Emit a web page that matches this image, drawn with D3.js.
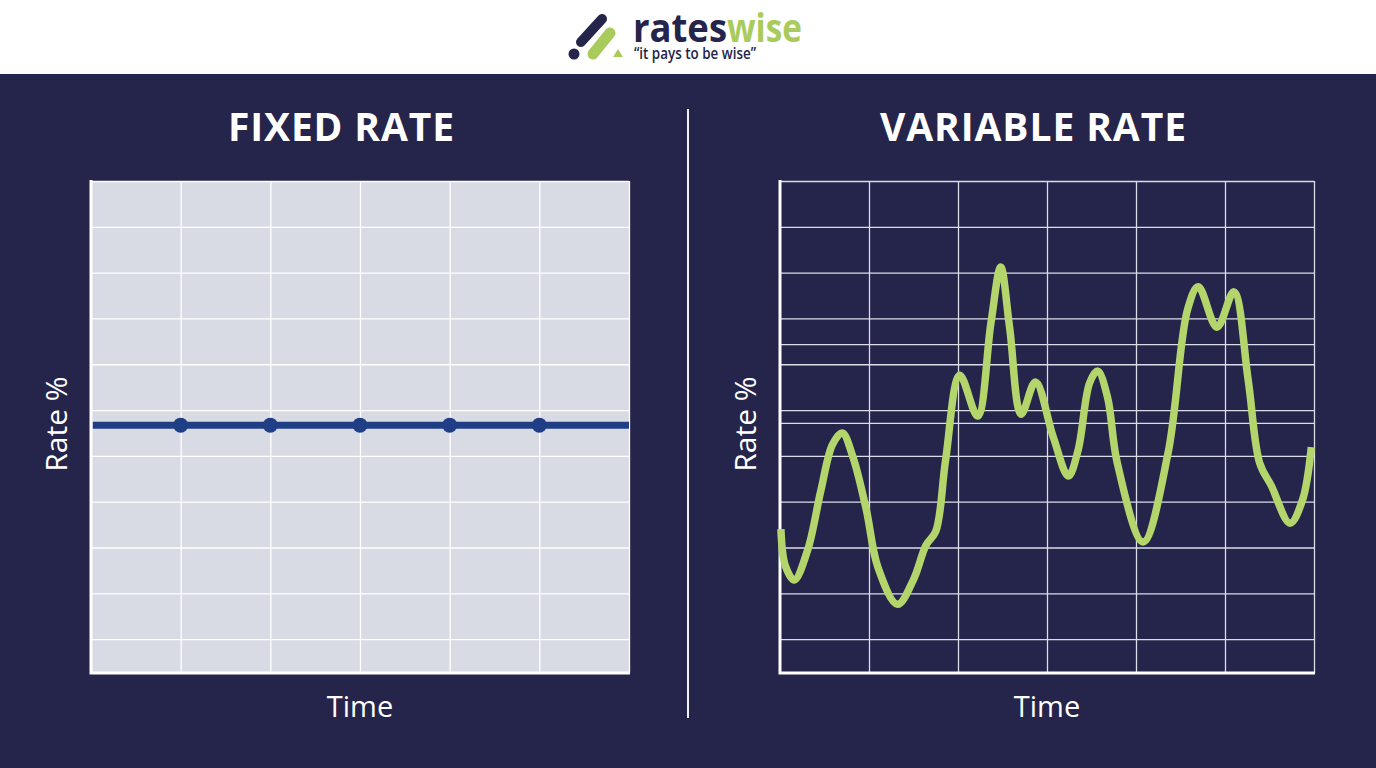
<!DOCTYPE html>
<html>
<head>
<meta charset="utf-8">
<script src="https://d3js.org/d3.v7.min.js"></script>
<style>
  html, body { margin: 0; padding: 0; background: #25244a; overflow: hidden; }
  svg { display: block; }
  text { font-family: "Open Sans", sans-serif; fill: #fff; }
</style>
</head>
<body>
<div id="chart"></div>
<script>
var svgWidth = 1376;
var svgHeight = 768;

var navy = "#25244a";
var green = "#b4d46c";
var logoGreen = "#a9cb5c";

// values
var panelTitles = ["FIXED RATE", "VARIABLE RATE"];
var brandWords = ["rates", "wise"];
var tagline = "\u201cit pays to be wise\u201d";
var xAxisLabel = "Time";
var yAxisLabel = "Rate %";

var timeTicks = [10, 20, 30, 40, 50, 60];
var rateTicks = [1, 2, 3, 4, 5, 6, 7, 8, 9, 10, 11];
var extraVariableRateTicks = [5.72, 7.44];

var fixedTime = [0.2, 60];
var fixedRate = [5.67, 5.67];
var fixedDotTime = [10, 20, 30, 40, 50];

var variableTime = [0.1, 0.6, 1.6, 3.1, 4.6, 5.9, 7.0, 8.2, 9.7, 11.0, 13.2, 15.0, 16.4, 17.5, 18.6, 20.2, 22.2, 23.7, 24.8,
  25.8, 27.1, 28.7, 30.7, 32.4, 33.5, 34.8, 35.7, 36.8, 37.9, 40.8, 43.6, 45.8, 47.0, 49.1, 51.0, 52.6,
  53.9, 55.2, 57.3, 58.7, 59.7];
var variableRate = [3.40, 2.60, 2.29, 2.94, 4.25, 5.25, 5.50, 4.97, 3.82, 2.57, 1.76, 2.30, 3.05, 3.35, 4.90, 6.76, 5.87, 7.90, 9.12,
  7.80, 5.91, 6.61, 5.41, 4.56, 5.13, 6.60, 6.85, 6.28, 4.84, 3.12, 5.06, 8.20, 8.69, 7.81, 8.58, 6.66,
  4.84, 4.35, 3.53, 4.03, 5.19];

var plotTop = 181;
var plotBottom = 673;

var svg = d3.select("#chart")
  .append("svg")
  .attr("width", svgWidth)
  .attr("height", svgHeight);

svg.append("rect")
  .attr("width", svgWidth)
  .attr("height", svgHeight)
  .attr("fill", navy);

// header
svg.append("rect")
  .attr("width", svgWidth)
  .attr("height", 74)
  .attr("fill", "#fff");

var logo = svg.append("g");

logo.append("line")
  .attr("x1", 581).attr("y1", 42).attr("x2", 602).attr("y2", 19)
  .attr("stroke", navy).attr("stroke-width", 10).attr("stroke-linecap", "round");
logo.append("line")
  .attr("x1", 593).attr("y1", 54).attr("x2", 610).attr("y2", 33)
  .attr("stroke", logoGreen).attr("stroke-width", 11).attr("stroke-linecap", "round");
logo.append("circle")
  .attr("cx", 574).attr("cy", 54).attr("r", 5.5).attr("fill", navy);
logo.append("path")
  .attr("d", "M613 57 L618 49 L623 57 Z")
  .attr("fill", logoGreen);

// the two brand words are separate so neither gets squeezed past the page top
logo.append("text")
  .attr("x", 633)
  .attr("y", 42)
  .attr("font-size", 39)
  .attr("font-weight", 700)
  .attr("textLength", 94)
  .attr("lengthAdjust", "spacingAndGlyphs")
  .style("fill", navy)
  .text(brandWords[0]);

logo.append("text")
  .attr("x", 727)
  .attr("y", 42)
  .attr("font-size", 39)
  .attr("font-weight", 700)
  .attr("textLength", 75)
  .attr("lengthAdjust", "spacingAndGlyphs")
  .style("fill", logoGreen)
  .text(brandWords[1]);

logo.append("text")
  .attr("x", 634)
  .attr("y", 59)
  .attr("font-size", 16)
  .attr("font-weight", 600)
  .attr("textLength", 122)
  .attr("lengthAdjust", "spacingAndGlyphs")
  .style("fill", navy)
  .text(tagline);

// divider
svg.append("line")
  .attr("x1", 688).attr("x2", 688)
  .attr("y1", 109).attr("y2", 718)
  .attr("stroke", "#f2f2f6")
  .attr("stroke-width", 2);

function drawPanel(left, right, title, titleX, titleWidth, background, gridColor, rowTicks) {
  var x = d3.scaleLinear().domain([0, 60]).range([left, right]);
  var y = d3.scaleLinear().domain([0.26, 11]).range([plotBottom, plotTop]);
  var panel = svg.append("g");

  panel.append("rect")
    .attr("x", left)
    .attr("y", plotTop)
    .attr("width", right - left)
    .attr("height", plotBottom - plotTop)
    .attr("fill", background);

  var rows = panel.append("g")
    .attr("transform", `translate(${left}, 0)`)
    .call(d3.axisLeft(y).tickValues(rowTicks).tickSize(-(right - left)).tickFormat(""));
  var cols = panel.append("g")
    .attr("transform", `translate(0, ${plotBottom})`)
    .call(d3.axisBottom(x).tickValues(timeTicks).tickSize(-(plotBottom - plotTop)).tickFormat(""));

  [rows, cols].forEach(function(axis) {
    axis.select(".domain").remove();
    axis.selectAll("line").attr("stroke", gridColor).attr("stroke-width", 1.3);
  });

  // white axis lines
  panel.append("path")
    .attr("d", `M${left} ${plotTop - 1} V${plotBottom} H${right + 1}`)
    .attr("fill", "none")
    .attr("stroke", "#fff")
    .attr("stroke-width", 3);

  panel.append("text")
    .attr("x", titleX)
    .attr("y", 141)
    .attr("text-anchor", "middle")
    .attr("font-size", 39)
    .attr("font-weight", 700)
    .attr("textLength", titleWidth)
    .attr("lengthAdjust", "spacing")
    .text(title);

  panel.append("text")
    .attr("x", (left + right) / 2)
    .attr("y", 717)
    .attr("text-anchor", "middle")
    .attr("font-size", 29)
    .attr("font-weight", 500)
    .text(xAxisLabel);

  panel.append("text")
    .attr("transform", `translate(${left - 24}, 424) rotate(-90)`)
    .attr("text-anchor", "middle")
    .attr("font-size", 30)
    .attr("font-weight", 500)
    .text(yAxisLabel);

  return { panel: panel, x: x, y: y };
}

// fixed rate panel
var fixedPanel = drawPanel(91, 629, panelTitles[0], 341, 226, "#d8dae4", "#ffffff", rateTicks);

var fixedLine = d3.line()
  .x(function(d, i) { return fixedPanel.x(fixedTime[i]); })
  .y(function(d) { return fixedPanel.y(d); });

fixedPanel.panel.append("path")
  .attr("d", fixedLine(fixedRate))
  .attr("fill", "none")
  .attr("stroke", "#1f3e86")
  .attr("stroke-width", 7);

fixedPanel.panel.selectAll(".dot")
  .data(fixedDotTime)
  .enter()
  .append("circle")
  .attr("class", "dot")
  .attr("cx", function(d) { return fixedPanel.x(d); })
  .attr("cy", fixedPanel.y(fixedRate[0]))
  .attr("r", 7.5)
  .attr("fill", "#1f3e86");

// variable rate panel
var variablePanel = drawPanel(780, 1314, panelTitles[1], 1033, 306, navy, "#dcdce8",
  rateTicks.concat(extraVariableRateTicks));

var variableLine = d3.line()
  .x(function(d, i) { return variablePanel.x(variableTime[i]); })
  .y(function(d) { return variablePanel.y(d); })
  .curve(d3.curveCatmullRom.alpha(0.5));

variablePanel.panel.append("path")
  .attr("d", variableLine(variableRate))
  .attr("fill", "none")
  .attr("stroke", green)
  .attr("stroke-width", 7.5);
</script>
</body>
</html>
